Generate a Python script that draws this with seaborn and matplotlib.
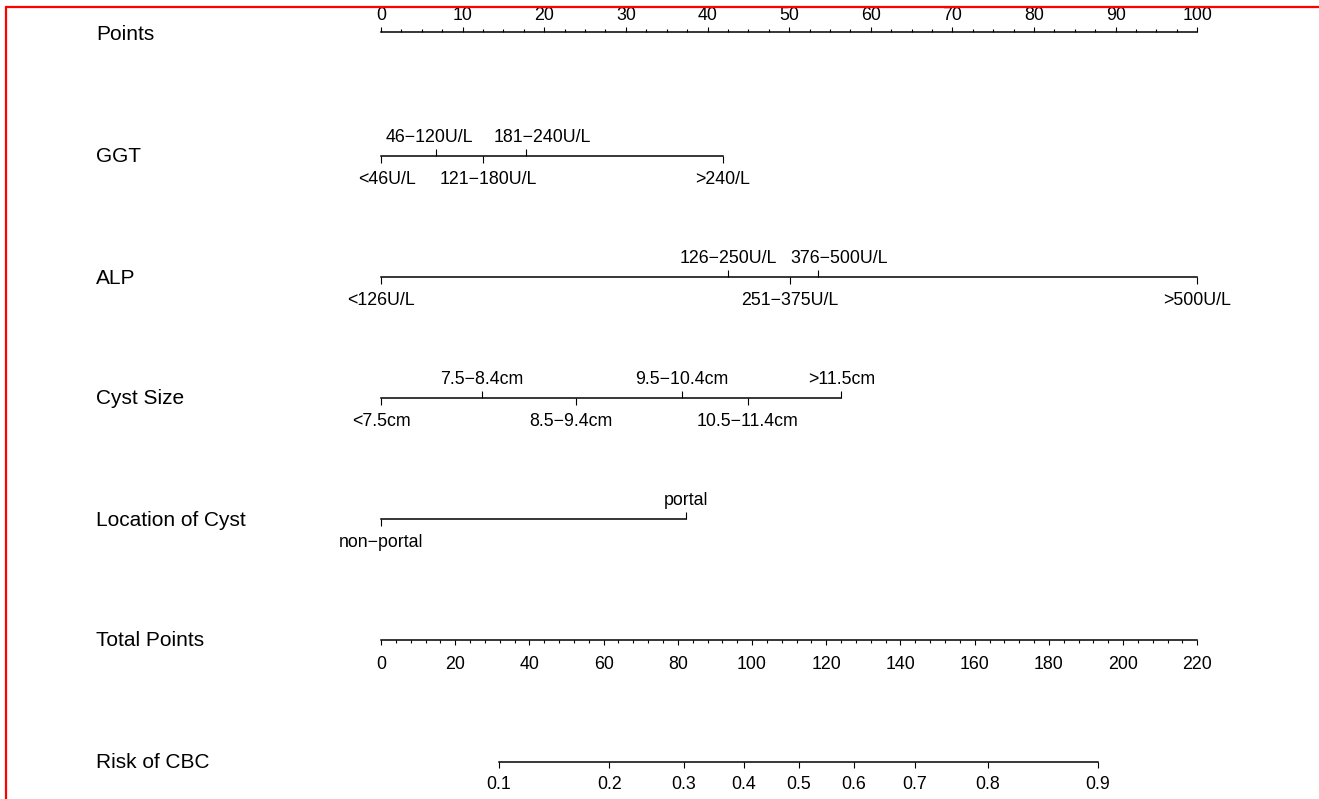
import matplotlib
matplotlib.use("Agg")
import matplotlib.pyplot as plt
from matplotlib.lines import Line2D
from matplotlib.ticker import MultipleLocator
from matplotlib.transforms import ScaledTranslation
import seaborn as sns

# points scale (top) and total points scale
points_major = [0, 10, 20, 30, 40, 50, 60, 70, 80, 90, 100]
total_major = [0, 20, 40, 60, 80, 100, 120, 140, 160, 180, 200, 220]

# predictor levels and their points
ggt_levels = ["<46U/L", "46−120U/L", "121−180U/L", "181−240U/L", ">240/L"]
ggt_points = [0, 6.7, 12.5, 17.8, 41.9]

alp_levels = ["<126U/L", "126−250U/L", "251−375U/L", "376−500U/L", ">500U/L"]
alp_points = [0, 42.5, 50.1, 53.5, 100]

cyst_levels = ["<7.5cm", "7.5−8.4cm", "8.5−9.4cm", "9.5−10.4cm", "10.5−11.4cm", ">11.5cm"]
cyst_points = [0, 12.4, 23.9, 36.9, 44.9, 56.4]

loc_levels = ["non−portal", "portal"]
loc_points = [0, 37.4]

# risk axis: probability labels and the total points where they sit
risk_labels = ["0.1", "0.2", "0.3", "0.4", "0.5", "0.6", "0.7", "0.8", "0.9"]
risk_points = [31.7, 61.5, 81.6, 97.8, 112.6, 127.4, 143.8, 163.5, 193.2]

# horizontal nudges (pixels) of some level labels, as in the original
ggt_nudge = [6, -6, 5, 16, 0]
alp_nudge = [0, 0, 0, 21, 0]
cyst_nudge = [0, 0, -5, 0, 0, 0]
loc_nudge = [0, 0]

sns.set_style("ticks", {"text.color": "black", "xtick.color": "black",
                        "axes.edgecolor": "black", "axes.labelcolor": "black"})
plt.rcParams["font.family"] = ["Liberation Sans", "DejaVu Sans"]

W, H = 1319, 799
fig = plt.figure(figsize=(W / 100, H / 100), dpi=100)

x0, x1 = 381, 1197.3
lab_fs = 15
tick_fs = 12.8


def row_axes(ypix, xmax):
    ax = fig.add_axes([x0 / W, 1 - ypix / H, (x1 - x0) / W, 0.4 / H])
    ax.set_xlim(0, xmax)
    ax.set_ylim(0, 1)
    ax.yaxis.set_visible(False)
    ax.patch.set_visible(False)
    for s in ax.spines.values():
        s.set_linewidth(1.1)
    return ax


def row_label(ypix, text):
    fig.text(96 / W, 1 - ypix / H, text, fontsize=lab_fs, va="center", ha="left",
             color="black")


def nudge(ax, shifts):
    for lbl, dx in zip(ax.get_xticklabels(), shifts):
        if dx:
            lbl.set_transform(lbl.get_transform()
                              + ScaledTranslation(dx / 100, 0, fig.dpi_scale_trans))


# Points
ax = row_axes(32, 100)
sns.despine(ax=ax, top=False, bottom=True, left=True, right=True)
ax.xaxis.tick_top()
ax.set_xticks(points_major)
ax.xaxis.set_minor_locator(MultipleLocator(2.5))
ax.tick_params(axis="x", which="major", direction="out", length=3.8, width=0.8,
               labelsize=tick_fs, pad=2.0, colors="black")
ax.tick_params(axis="x", which="minor", direction="out", length=2.0, width=0.8,
               colors="black")
ax.spines["top"].set_bounds(0, 100)
row_label(34, "Points")


def cat_row(ypix, name, levels, pts, shifts):
    ax = row_axes(ypix, 100)
    sns.despine(ax=ax, top=True, bottom=False, left=True, right=True)
    ax.spines["bottom"].set_bounds(min(pts), max(pts))
    ax.xaxis.tick_bottom()
    ax.set_xticks(pts[0::2])
    ax.set_xticklabels(levels[0::2])
    ax.tick_params(axis="x", direction="out", length=5, width=0.8,
                   labelsize=tick_fs, pad=5.5, colors="black")
    nudge(ax, shifts[0::2])
    tw = ax.twiny()
    tw.set_xlim(0, 100)
    tw.yaxis.set_visible(False)
    tw.patch.set_visible(False)
    for s in tw.spines.values():
        s.set_visible(False)
    tw.xaxis.tick_top()
    tw.set_xticks(pts[1::2])
    tw.set_xticklabels(levels[1::2])
    tw.tick_params(axis="x", direction="out", length=5, width=0.8,
                   labelsize=tick_fs, pad=1.6, colors="black")
    nudge(tw, shifts[1::2])
    row_label(ypix + 1, name)


cat_row(156, "GGT", ggt_levels, ggt_points, ggt_nudge)
cat_row(277, "ALP", alp_levels, alp_points, alp_nudge)
cat_row(398, "Cyst Size", cyst_levels, cyst_points, cyst_nudge)
cat_row(519, "Location of Cyst", loc_levels, loc_points, loc_nudge)

# Total Points
ax = row_axes(640, 220)
sns.despine(ax=ax, top=True, bottom=False, left=True, right=True)
ax.xaxis.tick_bottom()
ax.set_xticks(total_major)
ax.xaxis.set_minor_locator(MultipleLocator(4))
ax.tick_params(axis="x", which="major", direction="out", length=3.8, width=0.8,
               labelsize=tick_fs, pad=7.8, colors="black")
ax.tick_params(axis="x", which="minor", direction="out", length=2.2, width=0.8,
               colors="black")
ax.spines["bottom"].set_bounds(0, 220)
row_label(641, "Total Points")

# Risk of CBC
ax = row_axes(762, 220)
sns.despine(ax=ax, top=True, bottom=False, left=True, right=True)
ax.xaxis.tick_bottom()
ax.set_xticks(risk_points)
ax.set_xticklabels(risk_labels)
ax.tick_params(axis="x", direction="out", length=4.5, width=0.8,
               labelsize=tick_fs, pad=5.8, colors="black")
ax.spines["bottom"].set_bounds(risk_points[0], risk_points[-1])
row_label(763, "Risk of CBC")

# red frame edges
fig.add_artist(Line2D([6 / W, 1], [1 - 7 / H, 1 - 7 / H], color="#ff0000", lw=1.6, zorder=10))
fig.add_artist(Line2D([6 / W, 6 / W], [0, 1 - 7 / H], color="#ff0000", lw=1.6, zorder=10))

fig.savefig("out.png", dpi=100)
